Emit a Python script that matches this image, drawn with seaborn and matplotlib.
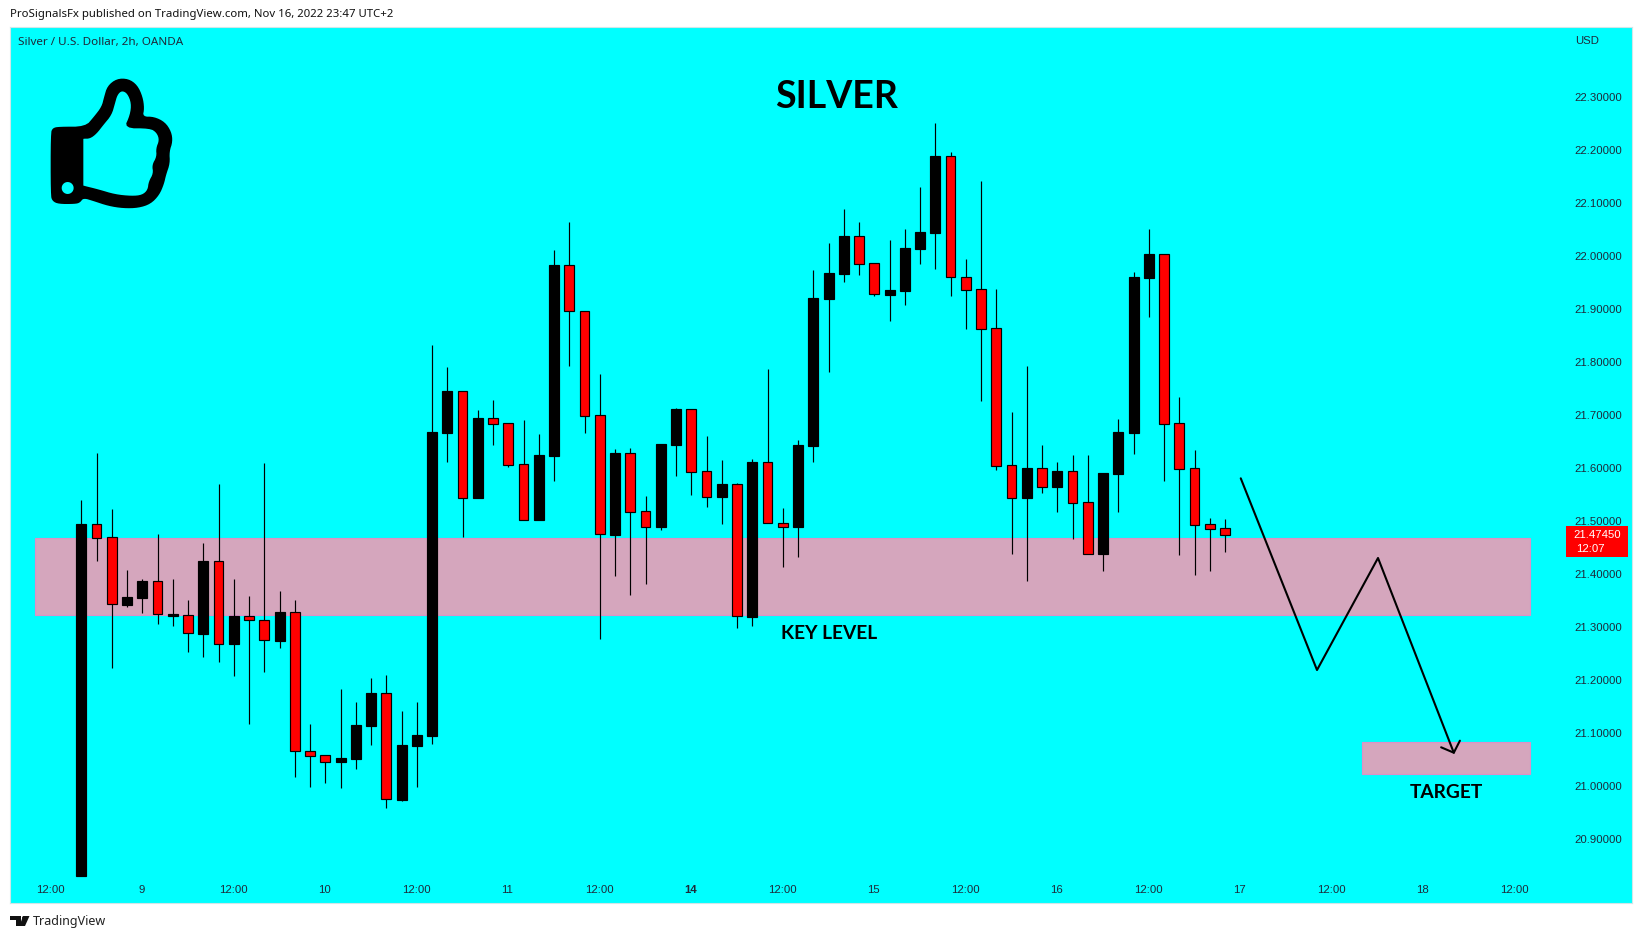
import numpy as np
import pandas as pd
import matplotlib
matplotlib.use("Agg")
import matplotlib.pyplot as plt
from matplotlib.path import Path
from matplotlib.patches import PathPatch, Rectangle
from matplotlib.transforms import Affine2D, ScaledTranslation
import seaborn as sns

# ---------- data ----------
open_ = [20.8295,21.4924,21.4679,21.3408,21.3540,21.3849,21.3194,21.3207,21.2861,21.4226,
         21.2673,21.3188,21.3113,21.2729,21.3264,21.0641,21.0566,21.0446,21.0503,21.1126,
         21.1735,20.9729,21.0748,21.0937,21.6653,21.7433,21.5427,21.6924,21.6829,21.6056,
         21.5012,21.6213,21.9810,21.8942,21.6980,21.4728,21.6263,21.5169,21.4880,21.6427,
         21.7093,21.5924,21.5445,21.5678,21.3182,21.6093,21.4942,21.4880,21.6401,21.9181,
         21.9653,22.0358,21.9849,21.9258,21.9327,22.0126,22.0428,22.1868,21.9585,21.9358,
         21.8623,21.6038,21.5427,21.5981,21.5629,21.5925,21.5340,21.4371,21.5880,21.6654,
         21.9579,22.0019,21.6830,21.5981,21.4925,21.4849]
high = [21.5383,21.6270,21.5213,21.4062,21.3893,21.4742,21.3893,21.3497,21.4572,21.5685,
        21.3893,21.3572,21.6081,21.3666,21.3497,21.1157,21.0566,21.1817,21.1572,21.2025,
        21.2081,21.1402,21.1572,21.8307,21.7892,21.7433,21.7081,21.7270,21.6829,21.6892,
        21.6628,22.0100,22.0628,21.8942,21.7760,21.6345,21.6364,21.5458,21.6433,21.7118,
        21.7093,21.6590,21.6137,21.5703,21.6150,21.7854,21.5232,21.6515,21.9722,22.0232,
        22.0874,22.0629,21.9849,22.0289,22.0497,22.1289,22.2497,22.1943,21.9931,22.1402,
        21.9365,21.7044,21.7912,21.6421,21.6101,21.6233,21.6233,21.5893,21.6912,21.9679,
        22.0497,22.0019,21.7327,21.6327,21.5044,21.5025]
low = [20.8295,21.4238,21.2220,21.3371,21.3257,21.3050,21.3012,21.2522,21.2427,21.2333,
       21.2069,21.1163,21.2144,21.2597,21.0163,20.9974,21.0050,20.9955,21.0314,21.0767,
       20.9578,20.9710,20.9974,21.0786,21.6106,21.4691,21.5427,21.6420,21.6012,21.5012,
       21.5012,21.5748,21.7917,21.6653,21.2766,21.3955,21.3597,21.3804,21.4817,21.5842,
       21.5483,21.5257,21.4936,21.2974,21.3012,21.4942,21.4125,21.4313,21.6106,21.7804,
       21.9502,21.9635,21.9239,21.8767,21.9069,21.9843,21.9748,21.9239,21.8616,21.7258,
       21.5956,21.4371,21.3862,21.5522,21.5163,21.4654,21.4371,21.4050,21.5163,21.6258,
       21.8843,21.5748,21.4352,21.3975,21.4050,21.4402]
close = [21.4930,21.4673,21.3415,21.3547,21.3849,21.3226,21.3232,21.2868,21.4226,21.2673,
         21.3188,21.3113,21.2735,21.3264,21.0641,21.0559,21.0446,21.0509,21.1132,21.1735,
         20.9735,21.0754,21.0943,21.6666,21.7433,21.5427,21.6924,21.6823,21.6049,21.5012,
         21.6225,21.9817,21.8942,21.6974,21.4735,21.6263,21.5163,21.4880,21.6433,21.7093,
         21.5917,21.5445,21.5678,21.3188,21.6093,21.4942,21.4880,21.6414,21.9194,21.9659,
         22.0357,21.9843,21.9264,21.9339,22.0132,22.0434,22.1868,21.9585,21.9352,21.8616,
         21.6031,21.5427,21.5981,21.5635,21.5925,21.5333,21.4371,21.5887,21.6660,21.9585,
         22.0019,21.6824,21.5975,21.4918,21.4843,21.4729]
last_price = "21.47450"
countdown = "12:07"

price_ticks = [20.9,21.0,21.1,21.2,21.3,21.4,21.5,21.6,21.7,21.8,21.9,22.0,22.1,22.2,22.3]
time_positions = [-2,4,10,16,22,28,34,40,46,52,58,64,70,76,82,88,94]
time_labels = ["12:00","9","12:00","10","12:00","11","12:00","14","12:00","15",
               "12:00","16","12:00","17","12:00","18","12:00"]

key_level = (21.3219, 21.4672)
key_span = (-3.02, 94.98)
target_zone = (21.0218, 21.0817)
target_span = (83.98, 94.98)
path_x = [76.03, 81.03, 85.03, 90.0]
path_y = [21.5792, 21.2175, 21.4289, 21.0615]
head_x = [89.17, 90.0, 90.4]
head_y = [21.0717, 21.0615, 21.0842]

# ---------- styling ----------
W, H = 1642, 939
AQUA = "#00ffff"
sns.set_theme(style="white")
plt.rcParams["font.family"] = ["Liberation Sans", "DejaVu Sans"]

fig = plt.figure(figsize=(W / 100, H / 100), dpi=100, facecolor="white")
L, T, R, B = 10, 27, 1632, 903
ax = fig.add_axes([L / W, 1 - B / H, (R - L) / W, (B - T) / H], facecolor=AQUA)
pxt = Affine2D().scale(1 / W, -1 / H).translate(0, 1) + fig.transFigure

df = pd.DataFrame({"i": np.arange(len(open_)), "open": open_, "high": high, "low": low, "close": close})
df["top"] = df[["open", "close"]].max(axis=1)
df["bottom"] = df[["open", "close"]].min(axis=1)
df["size"] = df["top"] - df["bottom"]
df["up"] = df["close"] >= df["open"]

# zones
ax.add_patch(Rectangle((key_span[0], key_level[0]), key_span[1] - key_span[0], key_level[1] - key_level[0],
                       facecolor="#d5a6bd", edgecolor="#dd90c8", lw=0.8, zorder=1))
ax.add_patch(Rectangle((target_span[0], target_zone[0]), target_span[1] - target_span[0], target_zone[1] - target_zone[0],
                       facecolor="#d5a6bd", edgecolor="#dd90c8", lw=0.8, zorder=1))

# wicks
ax.vlines(df["i"], df["low"], df["high"], color="black", lw=0.85, zorder=2)

# bodies
for is_up, colour, wd in [(True, "black", 0.66), (False, "#ff0000", 0.63)]:
    sub = df[df["up"] == is_up]
    sns.barplot(data=sub, x="i", y="size", bottom=sub["bottom"].values, native_scale=True,
                color=colour, saturation=1, width=wd, edgecolor="black", linewidth=0.85,
                errorbar=None, zorder=3, ax=ax)

# projected path
sns.lineplot(x=path_x, y=path_y, sort=False, estimator=None, color="black", lw=1.5, zorder=4, ax=ax)
sns.lineplot(x=head_x, y=head_y, sort=False, estimator=None, color="black", lw=1.5, zorder=4, ax=ax)

ax.set_xlim((L - 81.3) / 15.25, (R - 81.3) / 15.25)
ax.set_ylim(21.6 - (B - 467.3) / 530, 21.6 + (467.3 - T) / 530)
ax.set_xlabel("")
ax.set_ylabel("")

ax.yaxis.tick_right()
ax.set_yticks(price_ticks, [f"{v:.5f}" for v in price_ticks])
ax.tick_params(axis="y", length=0, pad=-7.3, labelsize=8.2, labelcolor="#1e2a3a")
nudge_y = ScaledTranslation(0, -0.5 / 100, fig.dpi_scale_trans)
for t in ax.get_yticklabels():
    t.set_ha("right")
    t.set_transform(t.get_transform() + nudge_y)
ax.set_xticks(time_positions, time_labels)
ax.tick_params(axis="x", length=0, pad=-13, labelsize=8.2, labelcolor="#1e2a3a")
nudge = ScaledTranslation(-0.8 / 100, 0, fig.dpi_scale_trans)
for t, s in zip(ax.get_xticklabels(), time_labels):
    t.set_va("top")
    t.set_transform(t.get_transform() + nudge)
    if s == "14":
        t.set_fontweight("bold")
for s in ax.spines.values():
    s.set_color("#d0e6e8")
    s.set_linewidth(0.8)

# chart annotations
BOLD = ["Lato", "DejaVu Sans"]
fig.text(836.5, 97, "SILVER", transform=pxt, ha="center", va="center", fontsize=27, fontweight="bold",
         family=BOLD, color="black")
fig.text(829, 633.5, "KEY LEVEL", transform=pxt, ha="center", va="center", fontsize=13.8, fontweight="bold",
         family=BOLD, color="black")
fig.text(1446, 792, "TARGET", transform=pxt, ha="center", va="center", fontsize=13.8, fontweight="bold",
         family=BOLD, color="black")

# header / footer
fig.text(10, 14.7, "ProSignalsFx published on TradingView.com, Nov 16, 2022 23:47 UTC+2", transform=pxt,
         ha="left", va="center", fontsize=8.2, color="#111111", family=["Noto Sans"])
fig.text(18, 42, "Silver / U.S. Dollar, 2h, OANDA", transform=pxt, ha="left", va="center",
         fontsize=8.4, color="#1e2a3a", family=["Noto Sans"])
fig.text(1575, 40.5, "USD", transform=pxt, ha="left", va="center", fontsize=8.2, color="#1e2a3a")
fig.text(33, 922, "TradingView", transform=pxt, ha="left", va="center", fontsize=9.0, color="#222222",
         family=["Noto Sans"])

# last price flag
fig.add_artist(Rectangle((1566, 526), 61.7, 31, transform=pxt, facecolor="#ff0000", edgecolor="none", zorder=5))
fig.text(1621, 534.5, last_price, transform=pxt, ha="right", va="center", fontsize=8.2, color="white", zorder=6)
fig.text(1576.5, 548.5, countdown, transform=pxt, ha="left", va="center", fontsize=8.2, color="white", zorder=6)


def smooth(ring, rounds=2):
    """Chaikin corner cutting for the icon outline."""
    pts = np.array(ring, dtype=float)
    for _ in range(rounds):
        nxt = np.roll(pts, -1, axis=0)
        pts = np.column_stack([0.75 * pts + 0.25 * nxt, 0.25 * pts + 0.75 * nxt]).reshape(-1, 2)
    return [tuple(p) for p in pts]


# thumbs-up icon (outline drawn in 3x crop pixels)
outer = [(152,400),(158,384),(177,380),(256,380),(282,350),(305,320),(312,292),(322,258),(350,236),(385,236),
         (412,255),(428,290),(433,325),(428,350),(462,350),(495,366),(514,395),(518,425),(508,455),(510,490),
         (498,525),(492,552),(478,585),(452,612),(415,624),(370,625),(325,618),(280,603),(250,594),(240,608),
         (225,612),(175,612),(157,603),(152,585)]
inner = [(250,418),(250,416),(270,416),(290,401),(310,375),(335,345),(345,310),(352,285),(365,272),(382,280),(394,310),
         (390,345),(372,385),(450,385),(470,398),(478,420),(468,445),(470,470),(456,495),(460,520),(446,545),
         (443,570),(426,585),(395,588),(345,583),(295,568),(250,557),(250,556)][::-1]
theta = np.linspace(0, 2 * np.pi, 25)[:-1]
hole = list(zip(203 + 18 * np.cos(theta), 564 + 18 * np.sin(theta)))[::-1]
verts, codes = [], []
for ring in (smooth(outer), smooth(inner), hole):
    pts = [(x / 3, y / 3) for x, y in ring]
    verts += pts + [pts[0]]
    codes += [Path.MOVETO] + [Path.LINETO] * (len(pts) - 1) + [Path.CLOSEPOLY]
fig.add_artist(PathPatch(Path(verts, codes), transform=pxt, facecolor="black", edgecolor="none", zorder=5))

# TradingView logo mark
logo1 = [(10,916),(21,916),(21,926),(16,926),(16,920),(10,920)]
logo2 = [(23,916),(29.5,916),(25,926),(19.5,926)]
for pts in (logo1, logo2):
    fig.add_artist(plt.Polygon(pts, closed=True, transform=pxt, facecolor="#111111", edgecolor="none"))
fig.add_artist(plt.Circle((24, 918), 1.9, transform=pxt, facecolor="#111111", edgecolor="none"))

fig.savefig("out.png", dpi=100, facecolor="white")
